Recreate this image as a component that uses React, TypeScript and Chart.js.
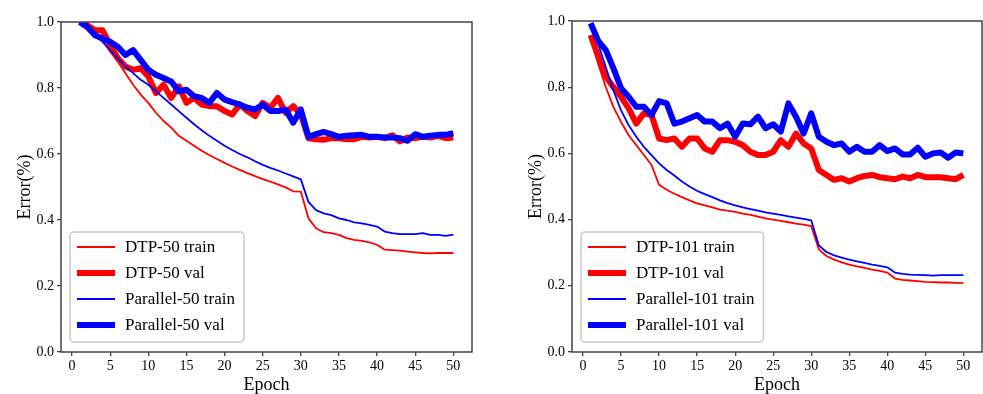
import React, { useEffect, useRef } from 'react';
import { Chart, registerables } from 'chart.js';
Chart.register(...registerables);

const EPOCHS = [1, 2, 3, 4, 5, 6, 7, 8, 9, 10, 11, 12, 13, 14, 15, 16, 17, 18, 19, 20, 21, 22, 23, 24, 25, 26, 27, 28, 29, 30, 31, 32, 33, 34, 35, 36, 37, 38, 39, 40, 41, 42, 43, 44, 45, 46, 47, 48, 49, 50];
const X_TICKS = [0, 5, 10, 15, 20, 25, 30, 35, 40, 45, 50];
const Y_TICKS = [0.0, 0.2, 0.4, 0.6, 0.8, 1.0];

const LEFT_LABELS = ['DTP-50 train', 'DTP-50 val', 'Parallel-50 train', 'Parallel-50 val'];
const RIGHT_LABELS = ['DTP-101 train', 'DTP-101 val', 'Parallel-101 train', 'Parallel-101 val'];

const DTP50_TRAIN = [1.0, 0.985, 0.965, 0.945, 0.91, 0.88, 0.845, 0.81, 0.78, 0.755, 0.725, 0.70, 0.68, 0.655, 0.64, 0.625, 0.61, 0.597, 0.585, 0.573, 0.562, 0.552, 0.542, 0.533, 0.524, 0.516, 0.508, 0.499, 0.487, 0.486, 0.405, 0.375, 0.363, 0.36, 0.355, 0.345, 0.34, 0.337, 0.332, 0.325, 0.31, 0.309, 0.307, 0.304, 0.302, 0.3, 0.299, 0.3, 0.3, 0.3];
const DTP50_VAL = [1.0, 0.99, 0.975, 0.975, 0.93, 0.89, 0.865, 0.855, 0.86, 0.835, 0.785, 0.81, 0.77, 0.805, 0.755, 0.77, 0.75, 0.745, 0.745, 0.73, 0.72, 0.75, 0.73, 0.715, 0.755, 0.74, 0.77, 0.725, 0.745, 0.72, 0.648, 0.645, 0.643, 0.648, 0.648, 0.645, 0.645, 0.652, 0.65, 0.652, 0.648, 0.657, 0.638, 0.65, 0.648, 0.652, 0.65, 0.655, 0.648, 0.65];
const PAR50_TRAIN = [1.0, 0.985, 0.96, 0.94, 0.915, 0.89, 0.865, 0.845, 0.825, 0.81, 0.79, 0.77, 0.75, 0.73, 0.71, 0.69, 0.672, 0.655, 0.64, 0.625, 0.612, 0.6, 0.59, 0.578, 0.567, 0.558, 0.55, 0.541, 0.532, 0.523, 0.455, 0.43, 0.42, 0.415, 0.405, 0.4, 0.393, 0.39, 0.385, 0.38, 0.365, 0.36, 0.357, 0.357, 0.357, 0.36, 0.355, 0.355, 0.352, 0.356];
const PAR50_VAL = [1.0, 0.985, 0.96, 0.95, 0.94, 0.925, 0.9, 0.915, 0.885, 0.855, 0.84, 0.83, 0.82, 0.79, 0.795, 0.775, 0.77, 0.755, 0.785, 0.765, 0.757, 0.75, 0.74, 0.735, 0.75, 0.73, 0.73, 0.735, 0.695, 0.735, 0.652, 0.66, 0.667, 0.66, 0.652, 0.655, 0.657, 0.658, 0.652, 0.652, 0.65, 0.65, 0.648, 0.64, 0.66, 0.652, 0.655, 0.658, 0.658, 0.663];

const DTP101_TRAIN = [0.955, 0.87, 0.8, 0.74, 0.695, 0.655, 0.625, 0.595, 0.565, 0.505, 0.49, 0.478, 0.468, 0.458, 0.449, 0.443, 0.437, 0.43, 0.427, 0.423, 0.418, 0.414, 0.409, 0.404, 0.4, 0.396, 0.392, 0.388, 0.385, 0.38, 0.31, 0.29, 0.279, 0.271, 0.264, 0.259, 0.254, 0.249, 0.245, 0.24, 0.222, 0.218, 0.216, 0.214, 0.212, 0.211, 0.21, 0.21, 0.209, 0.208];
const DTP101_VAL = [0.958, 0.892, 0.832, 0.80, 0.771, 0.736, 0.69, 0.721, 0.716, 0.645, 0.64, 0.645, 0.62, 0.645, 0.645, 0.615, 0.605, 0.64, 0.64, 0.635, 0.625, 0.605, 0.595, 0.595, 0.605, 0.64, 0.62, 0.66, 0.63, 0.615, 0.55, 0.535, 0.52, 0.525, 0.515, 0.525, 0.532, 0.535, 0.528, 0.525, 0.522, 0.53, 0.525, 0.535, 0.528, 0.528, 0.528, 0.525, 0.522, 0.535];
const PAR101_TRAIN = [0.99, 0.93, 0.86, 0.79, 0.73, 0.685, 0.65, 0.62, 0.595, 0.57, 0.55, 0.533, 0.515, 0.5, 0.487, 0.477, 0.468, 0.458, 0.45, 0.443, 0.437, 0.432, 0.427, 0.422, 0.418, 0.414, 0.41, 0.406, 0.402, 0.398, 0.322, 0.302, 0.292, 0.285, 0.279, 0.274, 0.269, 0.264, 0.26, 0.256, 0.24, 0.236, 0.234, 0.233, 0.232, 0.231, 0.232, 0.232, 0.232, 0.232];
const PAR101_VAL = [0.993, 0.94, 0.912, 0.857, 0.797, 0.771, 0.741, 0.741, 0.716, 0.758, 0.751, 0.69, 0.696, 0.706, 0.716, 0.696, 0.696, 0.676, 0.69, 0.65, 0.69, 0.688, 0.711, 0.676, 0.688, 0.666, 0.751, 0.711, 0.66, 0.721, 0.65, 0.635, 0.625, 0.63, 0.605, 0.62, 0.605, 0.605, 0.625, 0.607, 0.615, 0.597, 0.597, 0.617, 0.59, 0.6, 0.603, 0.587, 0.603, 0.6];

const SERIF = "'Liberation Serif', 'Times New Roman', serif";
const RED = '#ff0000';
const BLUE = '#0000ff';
const AXIS = '#444444';
const THIN = 1.8;
const THICK = 6;

const framePlugin = {
  id: 'frame',
  afterDatasetsDraw(chart: any) {
    const { ctx, chartArea: a } = chart;
    ctx.save();
    ctx.strokeStyle = AXIS;
    ctx.lineWidth = 1.5;
    ctx.strokeRect(a.left, a.top, a.right - a.left, a.bottom - a.top);
    ctx.restore();
  },
};

const legendPlugin = {
  id: 'boxLegend',
  afterDraw(chart: any) {
    const { ctx, chartArea: a } = chart;
    const sets = chart.data.datasets;
    ctx.save();
    ctx.font = `17px ${SERIF}`;
    const maxW = Math.max(...sets.map((d: any) => ctx.measureText(d.label).width));
    const x0 = a.left + 9;
    const w = 55 + maxW + 9;
    const h = 110;
    const y0 = a.bottom - 10 - h;
    ctx.beginPath();
    ctx.roundRect(x0, y0, w, h, 4);
    ctx.fillStyle = 'rgba(255,255,255,0.85)';
    ctx.fill();
    ctx.strokeStyle = '#c8c8c8';
    ctx.lineWidth = 1.5;
    ctx.stroke();
    sets.forEach((d: any, i: number) => {
      const y = y0 + 15 + i * 26;
      ctx.beginPath();
      ctx.moveTo(x0 + 7, y);
      ctx.lineTo(x0 + 45, y);
      ctx.strokeStyle = d.borderColor;
      ctx.lineWidth = d.borderWidth;
      ctx.lineCap = 'butt';
      ctx.stroke();
      ctx.fillStyle = '#000';
      ctx.textBaseline = 'middle';
      ctx.textAlign = 'left';
      ctx.fillText(d.label, x0 + 55, y + 1);
    });
    ctx.restore();
  },
};

function series(label: string, vals: number[], color: string, width: number, order: number) {
  return {
    label,
    data: vals.map((v, i) => ({ x: EPOCHS[i], y: v })),
    borderColor: color,
    backgroundColor: color,
    borderWidth: width,
    pointRadius: 0,
    tension: 0,
    fill: false,
    order,
    borderJoinStyle: 'round' as const,
    borderCapStyle: 'butt' as const,
  };
}

function makeChart(canvas: HTMLCanvasElement, labels: string[], data: number[][], pad: { left: number; right: number; top: number }) {
  const tickFont = { family: SERIF, size: 14 };
  const titleFont = { family: SERIF, size: 18, lineHeight: 1 };
  const grid = { display: true, drawOnChartArea: false, drawTicks: true, tickLength: 4, color: AXIS, lineWidth: 1.3 };
  return new Chart(canvas, {
    type: 'line',
    data: {
      datasets: [
        series(labels[0], data[0], RED, THIN, 4),
        series(labels[1], data[1], RED, THICK, 3),
        series(labels[2], data[2], BLUE, THIN, 2),
        series(labels[3], data[3], BLUE, THICK, 1),
      ],
    },
    options: {
      animation: false,
      responsive: false,
      devicePixelRatio: 1,
      layout: { padding: { left: pad.left, right: pad.right, top: pad.top, bottom: 0 } },
      plugins: { legend: { display: false }, tooltip: { enabled: false } },
      scales: {
        x: {
          type: 'linear',
          min: -1.45,
          max: 52.45,
          afterBuildTicks: (s: any) => {
            s.ticks = X_TICKS.map((v) => ({ value: v }));
          },
          afterFit: (s: any) => {
            s.height = 42;
          },
          ticks: { font: tickFont, color: '#000', padding: 2, maxRotation: 0, autoSkip: false },
          grid,
          border: { display: false },
          title: { display: true, text: 'Epoch', font: titleFont, color: '#000', padding: 0 },
        },
        y: {
          type: 'linear',
          min: 0,
          max: 1,
          afterBuildTicks: (s: any) => {
            s.ticks = Y_TICKS.map((v) => ({ value: v }));
          },
          afterFit: (s: any) => {
            s.width = 61;
          },
          ticks: { font: tickFont, color: '#000', padding: 3, callback: (v: any) => Number(v).toFixed(1) },
          grid,
          border: { display: false },
          title: { display: true, text: 'Error(%)', font: titleFont, color: '#000', padding: { top: 16, bottom: 0 } },
        },
      },
    } as any,
    plugins: [framePlugin, legendPlugin],
  });
}

function Panel({ labels, data, pad, left, width }: any) {
  const ref = useRef<HTMLCanvasElement>(null);
  useEffect(() => {
    const c = makeChart(ref.current!, labels, data, pad);
    return () => c.destroy();
  }, []);
  return (
    <canvas
      ref={ref}
      width={width}
      height={394}
      style={{ position: 'absolute', left, top: 0, width, height: 394 }}
    />
  );
}

export default function App() {
  return (
    <div style={{ position: 'fixed', left: 0, top: 0, width: 983, height: 394, background: '#fff', overflow: 'hidden' }}>
      <Panel
        labels={LEFT_LABELS}
        data={[DTP50_TRAIN, DTP50_VAL, PAR50_TRAIN, PAR50_VAL]}
        pad={{ left: 0, right: 19, top: 22 }}
        left={0}
        width={491}
      />
      <Panel
        labels={RIGHT_LABELS}
        data={[DTP101_TRAIN, DTP101_VAL, PAR101_TRAIN, PAR101_VAL]}
        pad={{ left: 20, right: 1, top: 21 }}
        left={491}
        width={492}
      />
    </div>
  );
}
